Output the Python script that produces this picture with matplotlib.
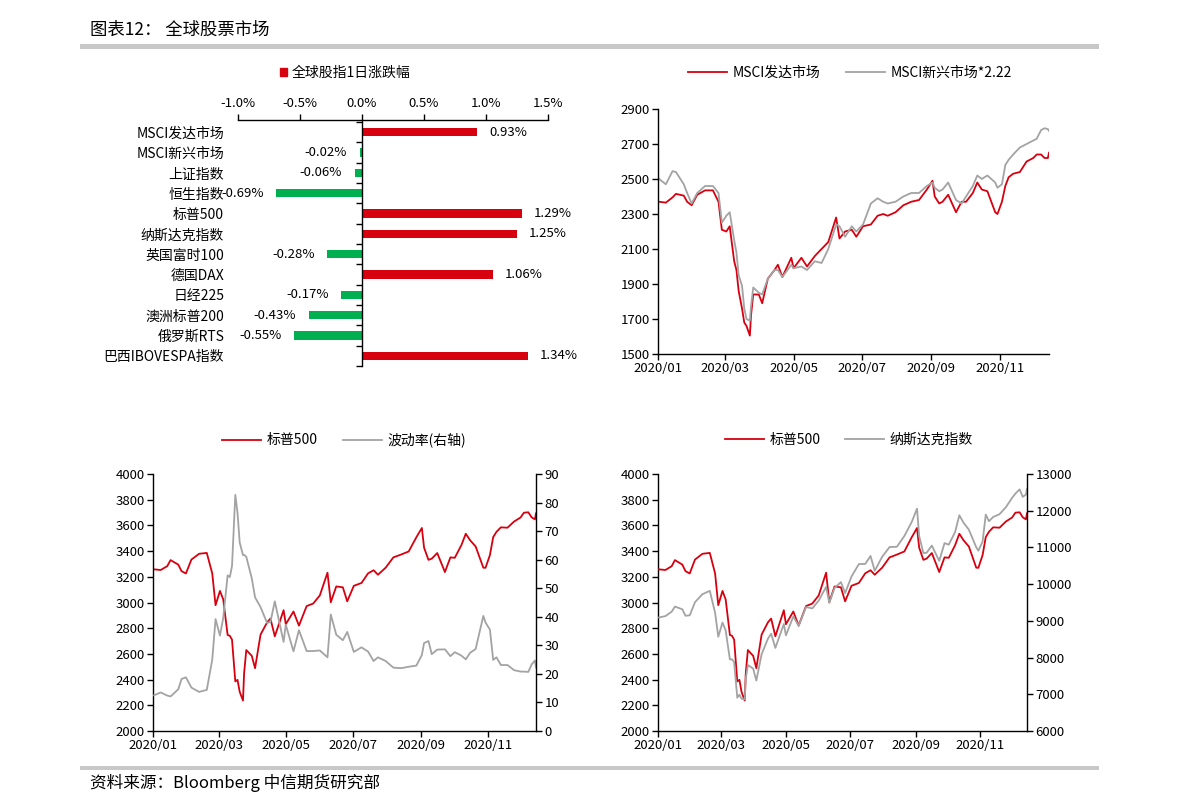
import pandas as pd
import matplotlib
matplotlib.use('Agg')
import matplotlib.pyplot as plt
import matplotlib.dates as mdates
from matplotlib.patches import Patch, Rectangle
from matplotlib.lines import Line2D
from matplotlib.ticker import FixedLocator

plt.rcParams['font.family'] = ['Noto Sans CJK SC', 'DejaVu Sans']
plt.rcParams['axes.unicode_minus'] = False

RED = '#d7000f'
GREEN = '#00b050'
GRAY = '#a3a3a3'
BAR_GRAY = '#c8c8c8'

# ---- bar chart: one-day change of global indices (%)
names = ['MSCI发达市场', 'MSCI新兴市场', '上证指数', '恒生指数', '标普500', '纳斯达克指数',
         '英国富时100', '德国DAX', '日经225', '澳洲标普200', '俄罗斯RTS', '巴西IBOVESPA指数']
changes = [0.93, -0.02, -0.06, -0.69, 1.29, 1.25, -0.28, 1.06, -0.17, -0.43, -0.55, 1.34]

# ---- time series (values at selected trading days)
dates = ['2020-01-02', '2020-01-08', '2020-01-14', '2020-01-17', '2020-01-24', '2020-01-27',
         '2020-01-31', '2020-02-05', '2020-02-12', '2020-02-19', '2020-02-24', '2020-02-27',
         '2020-03-02', '2020-03-05', '2020-03-09', '2020-03-11', '2020-03-13', '2020-03-16',
         '2020-03-18', '2020-03-20', '2020-03-23', '2020-03-24', '2020-03-26', '2020-03-31',
         '2020-04-03', '2020-04-08', '2020-04-14', '2020-04-17', '2020-04-21', '2020-04-29',
         '2020-05-01', '2020-05-08', '2020-05-13', '2020-05-20', '2020-05-26', '2020-06-01',
         '2020-06-08', '2020-06-11', '2020-06-16', '2020-06-22', '2020-06-26', '2020-07-02',
         '2020-07-09', '2020-07-15', '2020-07-20', '2020-07-24', '2020-07-31', '2020-08-07',
         '2020-08-14', '2020-08-21', '2020-08-28', '2020-09-02', '2020-09-04', '2020-09-08',
         '2020-09-11', '2020-09-16', '2020-09-23', '2020-09-28', '2020-10-02', '2020-10-08',
         '2020-10-12', '2020-10-16', '2020-10-21', '2020-10-28', '2020-10-30', '2020-11-03',
         '2020-11-06', '2020-11-09', '2020-11-13', '2020-11-19', '2020-11-25', '2020-12-01',
         '2020-12-04', '2020-12-08', '2020-12-11', '2020-12-14', '2020-12-15']

msci_dev = [2370, 2365, 2395, 2415, 2405, 2370, 2350, 2410, 2435, 2435, 2370, 2210,
            2200, 2230, 2030, 1980, 1860, 1760, 1680, 1660, 1605, 1720, 1840, 1840,
            1790, 1930, 1980, 2010, 1940, 2050, 1990, 2050, 2000, 2060, 2100, 2140,
            2280, 2160, 2200, 2210, 2170, 2230, 2240, 2290, 2300, 2290, 2310, 2350,
            2370, 2380, 2440, 2490, 2400, 2360, 2370, 2410, 2310, 2370, 2370, 2420,
            2480, 2440, 2430, 2310, 2300, 2370, 2460, 2510, 2530, 2540, 2600, 2620,
            2640, 2640, 2620, 2620, 2650]

msci_em = [2500, 2470, 2545, 2540, 2470, 2420, 2360, 2420, 2460, 2460, 2420, 2250,
           2290, 2310, 2150, 2080, 1950, 1890, 1760, 1700, 1690, 1770, 1880, 1850,
           1840, 1930, 1980, 1980, 1940, 2010, 1990, 2000, 1980, 2030, 2020, 2100,
           2240, 2230, 2170, 2230, 2200, 2240, 2360, 2390, 2370, 2360, 2370, 2400,
           2420, 2420, 2460, 2480, 2450, 2430, 2440, 2480, 2380, 2360, 2400, 2460,
           2520, 2500, 2520, 2480, 2450, 2470, 2580, 2610, 2640, 2680, 2700, 2720,
           2730, 2780, 2790, 2785, 2775]

spx = [3258, 3253, 3283, 3330, 3295, 3244, 3226, 3334, 3379, 3386, 3226, 2979,
       3090, 3024, 2747, 2741, 2711, 2386, 2398, 2305, 2237, 2447, 2630, 2585,
       2489, 2750, 2846, 2875, 2737, 2940, 2831, 2930, 2820, 2972, 2992, 3055,
       3232, 3002, 3125, 3118, 3009, 3130, 3152, 3227, 3251, 3216, 3271, 3351,
       3373, 3397, 3508, 3580, 3427, 3332, 3341, 3385, 3237, 3351, 3348, 3446,
       3535, 3484, 3436, 3271, 3270, 3369, 3509, 3550, 3585, 3582, 3630, 3662,
       3699, 3702, 3663, 3647, 3694]

vix = [12.5, 13.5, 12.4, 12.1, 14.6, 18.2, 18.8, 15.2, 13.7, 14.4, 25.0, 39.2,
       33.4, 39.6, 54.5, 53.9, 57.8, 82.7, 76.5, 66.0, 61.6, 61.7, 61.0, 53.5,
       46.8, 43.4, 37.8, 38.2, 45.4, 31.2, 37.2, 27.9, 35.3, 28.0, 28.0, 28.2,
       25.8, 40.8, 33.7, 31.8, 34.7, 27.7, 29.3, 27.8, 24.5, 25.8, 24.5, 22.2,
       22.0, 22.5, 22.9, 26.6, 30.8, 31.5, 26.9, 28.5, 28.6, 26.2, 27.6, 26.4,
       25.1, 27.4, 28.7, 40.3, 38.0, 35.5, 24.9, 25.8, 23.1, 23.1, 21.3, 20.8,
       20.8, 20.7, 23.3, 24.7, 22.3]

nasdaq = [9092, 9129, 9251, 9389, 9315, 9139, 9151, 9509, 9726, 9817, 9221, 8567,
          8953, 8738, 7950, 7952, 7875, 6905, 6990, 6880, 6861, 7418, 7797, 7700,
          7374, 8091, 8516, 8650, 8263, 8915, 8605, 9121, 8863, 9375, 9340, 9552,
          9925, 9492, 9895, 10056, 9757, 10207, 10547, 10550, 10767, 10363, 10745, 11010,
          11019, 11311, 11695, 12056, 11313, 10847, 10854, 11050, 10633, 11117, 11075, 11420,
          11876, 11671, 11485, 11004, 10911, 11160, 11895, 11713, 11829, 11905, 12094, 12355,
          12464, 12582, 12378, 12440, 12595]

month_ticks = ['2020-01-01', '2020-03-01', '2020-05-01', '2020-07-01', '2020-09-01', '2020-11-01']
x_end = '2020-12-15'

x = pd.to_datetime(dates)
tick_dates = pd.to_datetime(month_ticks)

W, H = 1191, 811
fig = plt.figure(figsize=(W / 100, H / 100), dpi=100)


def box(l, t, r, b):
    # pixel box -> figure fraction rect
    return [l / W, 1 - b / H, (r - l) / W, (b - t) / H]


def style_time_axis(ax):
    ax.set_xlim(pd.Timestamp('2020-01-01'), pd.Timestamp(x_end))
    ax.xaxis.set_major_locator(FixedLocator(mdates.date2num(tick_dates)))
    ax.xaxis.set_major_formatter(mdates.DateFormatter('%Y/%m'))
    for s in ['top', 'right']:
        ax.spines[s].set_visible(False)
    for s in ['left', 'bottom']:
        ax.spines[s].set_linewidth(1.0)
    ax.tick_params(labelsize=9.5, length=4, width=1.0, pad=2)


# ---- title and separators
fig.text(90 / W, 1 - 30 / H, '图表12： 全球股票市场', fontsize=12.5, va='center', ha='left')
fig.add_artist(Rectangle((80 / W, 1 - 48.5 / H), 1019 / W, 4.5 / H,
                         transform=fig.transFigure, color=BAR_GRAY, lw=0))
fig.add_artist(Rectangle((80 / W, 1 - 770 / H), 1019 / W, 4.5 / H,
                         transform=fig.transFigure, color=BAR_GRAY, lw=0))
fig.text(90 / W, 1 - 783 / H, '资料来源：Bloomberg 中信期货研究部', fontsize=12, va='center', ha='left')

# ---- panel 1: bar chart
ax1 = fig.add_axes(box(238, 120, 548, 366))
pos = list(range(len(names)))
colors = [RED if v >= 0 else GREEN for v in changes]
ax1.barh(pos, changes, height=0.42, color=colors)
ax1.set_xlim(-1.0, 1.5)
ax1.set_ylim(len(names) - 0.5, -0.6)
ax1.xaxis.tick_top()
ax1.set_xticks([-1.0, -0.5, 0.0, 0.5, 1.0, 1.5])
ax1.set_xticklabels([f'{v:.1f}%' for v in [-1.0, -0.5, 0.0, 0.5, 1.0, 1.5]])
ax1.tick_params(axis='x', labelsize=9.5, length=4, width=1.0, pad=3)
ax1.set_yticks(pos)
ax1.set_yticklabels(names)
ax1.tick_params(axis='y', which='major', length=0, pad=10, labelsize=10)
ax1.yaxis.set_minor_locator(FixedLocator([p + 0.5 for p in range(-1, len(names))]))
ax1.tick_params(axis='y', which='minor', left=False, right=True, direction='in', length=4, width=1.0)
ax1.spines['right'].set_position(('data', 0))
ax1.spines['left'].set_visible(False)
ax1.spines['bottom'].set_visible(False)
ax1.spines['top'].set_linewidth(1.0)
ax1.spines['right'].set_linewidth(1.0)
for p, v in zip(pos, changes):
    if v >= 0:
        ax1.annotate(f'{v:.2f}%', (v, p), xytext=(8.5, 0), textcoords='offset points',
                     ha='left', va='center', fontsize=9.5)
    else:
        ax1.annotate(f'{v:.2f}%', (v, p), xytext=(-9, 0), textcoords='offset points',
                     ha='right', va='center', fontsize=9.5)
fig.legend([Patch(color=RED)], ['全球股指1日涨跌幅'], loc='center',
           bbox_to_anchor=(345 / W, 1 - 73 / H), frameon=False, fontsize=10,
           handlelength=0.55, handleheight=0.55, handletextpad=0.3)

# ---- panel 2: MSCI developed vs emerging
ax2 = fig.add_axes(box(658, 109, 1049, 354))
l1, = ax2.plot(x, msci_dev, color=RED, lw=1.3)
l2, = ax2.plot(x, msci_em, color=GRAY, lw=1.3)
ax2.set_ylim(1500, 2900)
ax2.set_yticks(range(1500, 2901, 200))
style_time_axis(ax2)
fig.legend([l1, l2], ['MSCI发达市场', 'MSCI新兴市场*2.22'], loc='center',
           bbox_to_anchor=(850 / W, 1 - 73 / H), ncol=2, frameon=False, fontsize=10,
           handlelength=2.8, columnspacing=1.8, handletextpad=0.4)

# ---- panel 3: S&P 500 vs VIX
ax3 = fig.add_axes(box(153, 474, 536, 731))
l3, = ax3.plot(x, spx, color=RED, lw=1.3)
ax3.set_ylim(2000, 4000)
ax3.set_yticks(range(2000, 4001, 200))
style_time_axis(ax3)
ax3b = ax3.twinx()
l4, = ax3b.plot(x, vix, color=GRAY, lw=1.3)
ax3b.set_ylim(0, 90)
ax3b.set_yticks(range(0, 91, 10))
for s in ['top', 'left', 'bottom']:
    ax3b.spines[s].set_visible(False)
ax3b.spines['right'].set_linewidth(1.0)
ax3b.tick_params(labelsize=9.5, length=4, width=1.0, pad=2)
fig.legend([l3, l4], ['标普500', '波动率(右轴)'], loc='center',
           bbox_to_anchor=(344 / W, 1 - 440 / H), ncol=2, frameon=False, fontsize=10,
           handlelength=2.8, columnspacing=1.8, handletextpad=0.4)

# ---- panel 4: S&P 500 vs Nasdaq
ax4 = fig.add_axes(box(658, 474, 1027, 731))
l5, = ax4.plot(x, spx, color=RED, lw=1.3, zorder=3)
ax4.set_ylim(2000, 4000)
ax4.set_yticks(range(2000, 4001, 200))
style_time_axis(ax4)
ax4b = ax4.twinx()
l6, = ax4b.plot(x, nasdaq, color=GRAY, lw=1.3)
ax4b.set_ylim(6000, 13000)
ax4b.set_yticks(range(6000, 13001, 1000))
for s in ['top', 'left', 'bottom']:
    ax4b.spines[s].set_visible(False)
ax4b.spines['right'].set_linewidth(1.0)
ax4b.tick_params(labelsize=9.5, length=4, width=1.0, pad=2)
fig.legend([l5, l6], ['标普500', '纳斯达克指数'], loc='center',
           bbox_to_anchor=(849 / W, 1 - 440 / H), ncol=2, frameon=False, fontsize=10,
           handlelength=2.8, columnspacing=1.8, handletextpad=0.4)

fig.savefig('out.png', dpi=100)
